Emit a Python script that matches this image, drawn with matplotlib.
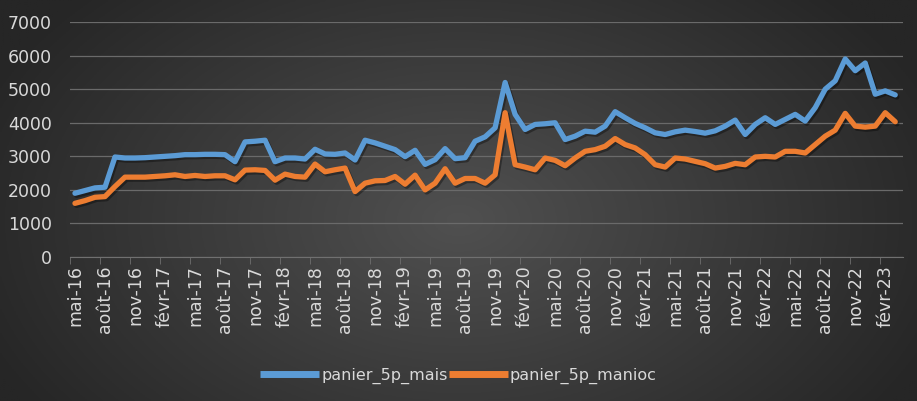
import matplotlib.pyplot as plt
import matplotlib.patheffects as pe
import numpy as np

# monthly values, mai-16 .. mars-23
mais = [1900, 1980, 2060, 2080, 2980, 2950, 2950, 2960, 2980, 3000, 3020, 3050,
        3050, 3060, 3060, 3050, 2840, 3430, 3450, 3480, 2840, 2950, 2950, 2920,
        3210, 3070, 3060, 3100, 2890, 3480, 3400, 3300, 3200, 2990, 3180, 2760,
        2900, 3230, 2930, 2960, 3450, 3580, 3850, 5200, 4250, 3800, 3950, 3970,
        4000, 3500, 3600, 3750, 3720, 3900, 4330, 4150, 3980, 3850, 3700, 3650,
        3730, 3780, 3740, 3690, 3760, 3900, 4080, 3650, 3950, 4150, 3950, 4100,
        4250, 4050, 4450, 5000, 5250, 5900, 5550, 5780, 4850, 4950, 4830]
manioc = [1600, 1680, 1780, 1800, 2100, 2380, 2380, 2380, 2400, 2420, 2450, 2400,
          2430, 2400, 2420, 2420, 2300, 2590, 2600, 2580, 2290, 2470, 2400, 2380,
          2770, 2540, 2600, 2650, 1950, 2200, 2270, 2280, 2400, 2170, 2440, 2000,
          2200, 2630, 2200, 2340, 2340, 2200, 2450, 4300, 2750, 2680, 2600, 2950,
          2880, 2720, 2950, 3150, 3200, 3300, 3530, 3350, 3250, 3050, 2750, 2680,
          2950, 2920, 2850, 2780, 2650, 2700, 2790, 2750, 2980, 3000, 2980, 3150,
          3150, 3100, 3350, 3600, 3780, 4280, 3900, 3870, 3900, 4300, 4030]
tick_labels = ["mai-16", "août-16", "nov-16", "févr-17", "mai-17", "août-17", "nov-17",
               "févr-18", "mai-18", "août-18", "nov-18", "févr-19", "mai-19", "août-19",
               "nov-19", "févr-20", "mai-20", "août-20", "nov-20", "févr-21", "mai-21",
               "août-21", "nov-21", "févr-22", "mai-22", "août-22", "nov-22", "févr-23"]
y_ticks = [0, 1000, 2000, 3000, 4000, 5000, 6000, 7000]

plt.rcParams['font.family'] = ['Liberation Sans Narrow', 'DejaVu Sans']
txt_color = "#d9d9d9"

fig = plt.figure(figsize=(9.17, 4.01), dpi=100)

# dark radial background
bg = fig.add_axes([0, 0, 1, 1], zorder=-10)
gx, gy = np.meshgrid(np.linspace(0, 1, 400), np.linspace(0, 1, 200))
r = np.sqrt(((gx - 0.5) / 0.75) ** 2 + ((gy - 0.45) / 1.1) ** 2)
r = np.clip(r / 0.75, 0, 1)
inner = np.array([0x50, 0x50, 0x50]) / 255
outer = np.array([0x26, 0x26, 0x26]) / 255
img = inner[None, None, :] * (1 - r[..., None]) + outer[None, None, :] * r[..., None]
bg.imshow(img, aspect='auto', extent=[0, 1, 0, 1], origin='lower')
bg.axis('off')

ax = fig.add_axes([0.0763, 0.359, 0.9087, 0.586])
ax.patch.set_alpha(0)

x = np.arange(len(mais))
shadow = [pe.SimpleLineShadow(offset=(1.2, -1.5), alpha=0.35, shadow_color='black'), pe.Normal()]
ax.plot(x, mais, color="#5b9bd5", lw=3.8, label="panier_5p_mais",
        solid_joinstyle='round', solid_capstyle='round', path_effects=shadow)
ax.plot(x, manioc, color="#ed7d31", lw=3.8, label="panier_5p_manioc",
        solid_joinstyle='round', solid_capstyle='round', path_effects=shadow)

ax.set_xlim(-0.5, len(mais) - 0.2)
ax.set_ylim(0, 7000)
ax.set_yticks(y_ticks)
ax.set_yticklabels([str(v) for v in y_ticks])
ax.tick_params(axis='y', length=0, pad=13, labelsize=12.5, labelcolor=txt_color)

ax.set_xticks(np.arange(0, len(mais), 3))
ax.set_xticklabels(tick_labels, rotation=90)
ax.set_xticks(np.arange(-0.5, len(mais), 3), minor=True)
ax.tick_params(axis='x', which='major', length=0, pad=6, labelsize=12.5, labelcolor=txt_color)
ax.tick_params(axis='x', which='minor', length=5, color="#6e6e6e")

ax.grid(axis='y', color="#6a6a6a", lw=0.9)
ax.set_axisbelow(True)
for s in ['top', 'right', 'left']:
    ax.spines[s].set_visible(False)
ax.spines['bottom'].set_color("#707070")

leg = fig.legend(loc='center', bbox_to_anchor=(0.5, 0.062), ncol=2, frameon=False,
                 fontsize=11.5, handlelength=3.7, columnspacing=0.1, handletextpad=0.1)
for t in leg.get_texts():
    t.set_color(txt_color)
for h in leg.get_lines():
    h.set_linewidth(5)
    h.set_solid_capstyle('butt')
    h.set_path_effects([])

fig.savefig("out.png", dpi=100)
